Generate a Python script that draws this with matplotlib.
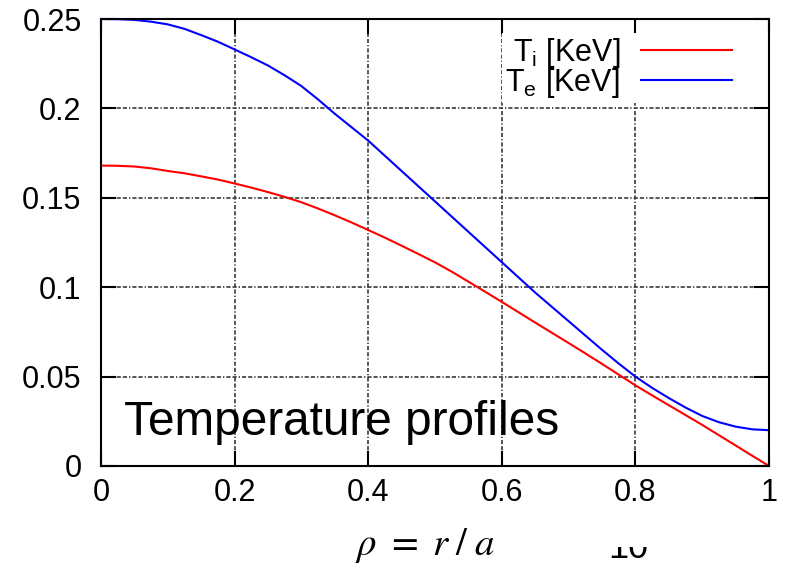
import matplotlib
matplotlib.use("Agg")
import matplotlib.pyplot as plt
from matplotlib.transforms import Bbox

plt.rcParams["font.family"] = ["Liberation Sans", "DejaVu Sans"]
plt.rcParams["mathtext.fontset"] = "custom"
plt.rcParams["mathtext.rm"] = "Liberation Sans"
plt.rcParams["mathtext.it"] = "Liberation Sans:italic"

# radial coordinate (step 0.025) and profiles
rho = [i * 0.025 for i in range(41)]
t_i = [0.168, 0.1679, 0.1675, 0.1665, 0.165, 0.1637, 0.162, 0.1602, 0.158, 0.1557,
       0.1532, 0.1505, 0.1475, 0.144, 0.1402, 0.1362, 0.132, 0.1277, 0.1232, 0.1186,
       0.1139, 0.1087, 0.1031, 0.0975, 0.0918, 0.086, 0.0802, 0.0745, 0.0688, 0.063,
       0.0571, 0.0511, 0.0451, 0.0395, 0.034, 0.0285, 0.023, 0.0172, 0.0115, 0.0057,
       0.0]
t_e = [0.250, 0.2499, 0.2495, 0.2485, 0.247, 0.2445, 0.241, 0.2373, 0.233, 0.2286,
       0.224, 0.2185, 0.2125, 0.205, 0.197, 0.1895, 0.182, 0.1735, 0.165, 0.1565,
       0.148, 0.1395, 0.131, 0.1225, 0.114, 0.1055, 0.097, 0.089, 0.081, 0.073,
       0.065, 0.0573, 0.050, 0.0437, 0.038, 0.0327, 0.028, 0.0245, 0.022, 0.0205,
       0.020]

x_ticks = [0, 0.2, 0.4, 0.6, 0.8, 1]
x_labels = ["0", "0.2", "0.4", "0.6", "0.8", "1"]
y_ticks = [0, 0.05, 0.1, 0.15, 0.2, 0.25]
y_labels = ["0", "0.05", "0.1", "0.15", "0.2", "0.25"]

fig = plt.figure(figsize=(7.87, 5.64), dpi=100)
ax = fig.add_axes([0.1283, 0.1738, 0.9771 - 0.1283, 0.9663 - 0.1738])

ax.plot(rho, t_i, color="#ff0000", lw=1.5, label="T$_{\\mathrm{i}}$ [KeV]")
ax.plot(rho, t_e, color="#0000ff", lw=1.5, label="T$_{\\mathrm{e}}$ [KeV]")

ax.set_xlim(0, 1)
ax.set_ylim(0, 0.25)
ax.set_xticks(x_ticks, x_labels)
ax.set_yticks(y_ticks, y_labels)
ax.tick_params(direction="in", length=11, width=1.5, labelsize=22,
               top=True, right=True)
ax.tick_params(axis="y", pad=14)
ax.tick_params(axis="x", pad=9)
for s in ax.spines.values():
    s.set_linewidth(1.5)

ax.grid(True, color="#3a3a3a", lw=1.2,
        linestyle=(0, (2.5, 1.2, 2.5, 1.2, 0.8, 1.2)))

# white key box hides the grid behind it but not the ticks
leg = ax.legend(loc="upper right", bbox_to_anchor=(0.976, 1.010), fontsize=22,
                markerfirst=False, frameon=True, fancybox=False, framealpha=1,
                edgecolor="none", handlelength=2.95, handletextpad=0.7,
                labelspacing=-0.14, borderpad=0.1, borderaxespad=0.6)
leg.set_zorder(2.2)

ax.text(0.034, 0.0173, "Temperature profiles", fontsize=34.4, va="baseline")

fig.text(0.451, 0.016, "$\\rho\\ =\\ r\\;/\\;a$", fontsize=28, math_fontfamily="stix",
         ha="left", va="baseline")

# slide number, only its lower part shows below the plot
num = fig.text(0.773, 0.011, "10", fontsize=26, ha="left", va="baseline")
num.set_clip_box(Bbox.from_extents(0, 0, 787, 17))
num.set_clip_on(True)

fig.savefig("out.png", dpi=100)
